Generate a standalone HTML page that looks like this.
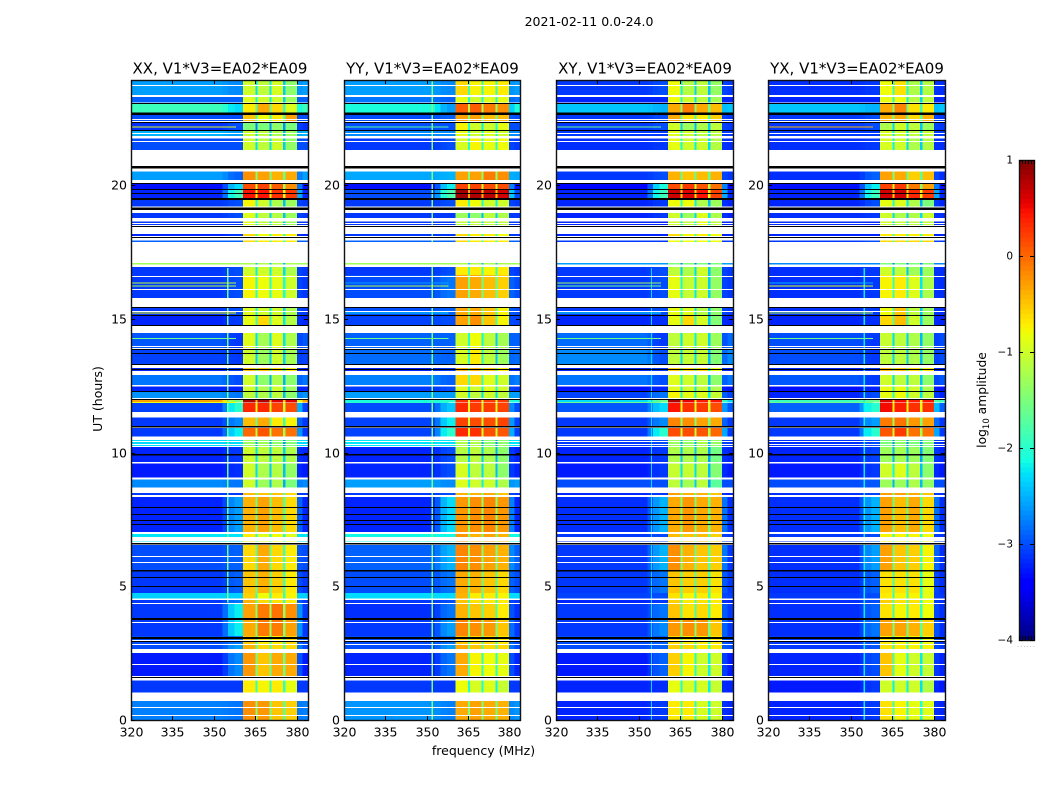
<!DOCTYPE html>
<html lang="en">
<head>
<meta charset="utf-8">
<title>2021-02-11 0.0-24.0 amplitude waterfall</title>
<style>
html,body{margin:0;padding:0;background:#fff;}
svg{display:block;}
text{font-family:"DejaVu Sans","Liberation Sans",sans-serif;fill:#000;}
</style>
</head>
<body>
<svg id="chart" xmlns="http://www.w3.org/2000/svg" width="1050" height="800" viewBox="0 0 1050 800">
  <text x="589" y="26" text-anchor="middle" font-size="12.5">2021-02-11 0.0-24.0</text>
  <text x="483.5" y="755" text-anchor="middle" font-size="12.5">frequency (MHz)</text>
  <text transform="translate(102,399) rotate(-90)" text-anchor="middle" font-size="12.5">UT (hours)</text>
  <text transform="translate(986,400) rotate(-90)" text-anchor="middle" font-size="12.3">log<tspan font-size="8.5" dy="3">10</tspan><tspan dy="-3"> amplitude</tspan></text>
  <g id="panels"></g>
  <g id="colorbar"></g>
</svg>
<script>
// ---------- data (time in UT hours, levels in log10 amplitude) ----------
const panelNames = ["XX", "YY", "XY", "YX"];
const titleSuffix = ", V1*V3=EA02*EA09";
const xTicks = [320, 335, 350, 365, 380];
const yTicks = [0, 5, 10, 15, 20];
const colorTicks = [1, 0, -1, -2, -3, -4];

const segmentTop = [23.94,23.30,23.05,22.63,22.37,22.04,21.75,20.51,20.05,19.83,19.45,18.96,18.64,18.18,17.93,17.10,16.94,16.65,15.45,15.11,14.47,13.88,13.17,12.90,12.47,12.27,12.00,11.85,11.32,10.92,10.48,10.21,9.60,9.00,8.50,8.35,6.97,6.55,5.61,4.76,4.53,4.36,3.78,3.14,2.81,2.50,1.47,0.71];
const segmentBottom = [23.38,23.09,22.72,22.38,22.05,21.85,21.32,20.20,19.83,19.47,19.20,18.78,18.52,18.11,17.88,17.04,16.65,15.79,15.15,14.78,13.92,13.32,13.06,12.53,12.31,12.04,11.87,11.53,11.00,10.60,10.21,9.65,9.08,8.69,8.42,7.04,6.67,5.61,4.76,4.55,4.36,3.82,3.14,2.81,2.65,1.65,1.02,0];

// each row: off-band, band shoulder, sub-band 1, 2, 3, 4
const levelsXX = [
[-2.6,-2.7,-1.0,-1.1,-0.95,-1.4],[-2.9,-2.9,-0.9,-1.0,-1.0,-1.3],[-1.9,-2.3,-0.7,-0.35,-0.6,-0.9],[-3.0,-3.0,-0.5,-0.8,-0.7,-0.3],
[-3.15,-3.0,-1.5,-1.5,-1.4,-1.5],[-2.5,-2.6,-1.0,-1.1,-1.2,-1.3],[-3.0,-3.0,-1.0,-1.1,-1.0,-1.35],[-2.6,-2.9,-0.2,-0.3,-0.4,-0.35],
[-3.3,-2.3,0.15,0.2,0.05,-0.2],[-3.2,-1.9,0.45,0.45,0.3,0.25],[-3.1,-3.0,-0.75,-1.0,-1.2,-1.3],[-3.1,-3.0,-0.9,-1.1,-1.15,-1.3],
[-3.1,-3.1,-0.9,-1.1,-1.1,-1.3],[-3.2,-3.1,-0.6,-0.8,-0.7,-0.7],[-2.9,-2.9,-0.6,-0.7,-0.7,-0.7],[-1.3,-1.3,-1.2,-1.2,-1.2,-1.2],
[-3.1,-3.0,-1.0,-1.0,-1.0,-1.2],[-3.1,-3.0,-0.75,-0.8,-0.85,-1.0],[-3.1,-3.0,-0.9,-1.0,-1.0,-1.2],[-3.2,-3.1,-0.85,-0.6,-0.9,-1.15],
[-2.95,-3.1,-0.9,-1.25,-0.9,-1.2],[-3.05,-3.1,-1.0,-1.3,-1.0,-1.25],[-3.2,-3.1,-0.5,-0.5,-0.6,-0.7],[-2.8,-3.0,-1.0,-1.4,-1.2,-1.4],
[-3.2,-3.2,-1.0,-1.2,-1.0,-1.3],[-2.65,-2.8,-1.1,-1.2,-1.1,-1.4],[-0.3,-1.5,0.8,0.8,0.6,0.6],[-3.05,-2.0,0.35,0.35,0.2,0.15],
[-3.1,-2.7,-0.45,-0.35,-0.7,-0.75],[-3.1,-2.2,0.0,0.1,-0.05,-0.05],[-2.3,-2.3,-1.3,-1.3,-1.4,-1.45],[-3.2,-3.1,-1.0,-1.1,-1.1,-1.2],
[-3.25,-3.15,-1.0,-1.2,-1.15,-1.35],[-2.7,-2.8,-1.0,-1.3,-1.2,-1.5],[-3.1,-3.1,-0.45,-0.5,-0.5,-0.6],[-3.2,-2.6,-0.4,-0.3,-0.45,-0.6],
[-2.25,-2.25,-0.7,-0.9,-0.8,-0.9],[-3.0,-2.9,-0.6,-0.35,-0.6,-0.7],[-3.1,-2.9,-0.5,-0.4,-0.55,-0.7],[-2.35,-2.35,-0.55,-0.8,-0.7,-0.75],
[-3.1,-2.8,-0.4,-0.6,-0.65,-0.7],[-3.1,-2.2,-0.3,-0.1,-0.05,-0.2],[-3.1,-2.2,-0.35,-0.1,-0.1,-0.3],[-3.0,-2.8,-0.5,-0.7,-0.7,-0.6],
[-3.0,-2.6,-0.4,-0.6,-0.6,-0.6],[-3.25,-2.7,-0.25,-0.5,-0.35,-0.35],[-3.1,-3.1,-0.7,-0.75,-0.7,-0.85],[-2.75,-2.8,-0.2,-0.25,-0.5,-0.55]];

const levelsYY = [
[-2.6,-2.7,-0.6,-0.75,-0.75,-0.7],[-2.8,-2.9,-0.85,-1.0,-0.9,-0.85],[-2.1,-2.6,0.05,0.05,-0.1,-0.2],[-3.0,-2.9,-0.3,-0.3,-0.45,-0.45],
[-3.0,-3.0,-0.75,-1.0,-1.0,-0.85],[-2.7,-2.7,-0.85,-1.0,-0.9,-1.0],[-3.1,-3.0,-0.95,-0.75,-0.85,-0.8],[-2.55,-2.5,-0.3,-0.3,-0.1,-0.2],
[-3.3,-2.2,0.2,0.2,0.15,0.15],[-3.0,-1.8,0.85,0.8,0.75,0.65],[-3.1,-3.0,-0.7,-0.8,-1.0,-1.0],[-3.1,-3.1,-1.3,-1.4,-1.1,-1.2],
[-3.1,-3.1,-1.1,-1.1,-1.1,-1.1],[-3.1,-3.1,-0.6,-0.7,-0.7,-0.8],[-2.9,-2.9,-0.6,-0.7,-0.7,-0.7],[-1.3,-1.3,-1.2,-1.2,-1.2,-1.2],
[-3.1,-3.0,-0.7,-0.7,-0.75,-0.7],[-3.0,-2.8,-0.3,-0.35,-0.45,-0.55],[-3.0,-2.9,-0.35,-0.35,-0.5,-0.75],[-3.05,-3.0,-0.3,-0.2,-0.5,-0.75],
[-2.9,-2.9,-1.0,-0.8,-1.1,-1.25],[-2.85,-2.9,-0.95,-0.7,-1.1,-1.3],[-3.2,-3.1,-0.4,-0.4,-0.5,-0.7],[-2.75,-2.9,-0.6,-0.6,-0.9,-1.0],
[-3.1,-3.0,-0.9,-1.0,-0.9,-1.0],[-2.6,-2.6,-1.0,-1.1,-1.0,-1.1],[-2.1,-2.0,0.3,0.3,0.25,0.25],[-3.0,-2.4,0.35,0.25,0.25,0.2],
[-3.05,-2.2,0.2,0.15,0.15,0.2],[-3.05,-2.0,0.35,0.3,0.15,0.1],[-2.25,-2.25,-1.2,-1.2,-1.4,-1.4],[-3.2,-3.0,-1.15,-1.1,-1.2,-1.4],
[-3.2,-3.0,-0.95,-1.1,-1.1,-1.4],[-2.6,-2.7,-0.9,-1.0,-1.0,-1.2],[-3.1,-3.0,-0.4,-0.4,-0.35,-0.5],[-3.2,-2.3,-0.25,-0.2,-0.15,-0.25],
[-2.15,-2.15,-0.25,-0.4,-0.3,-0.4],[-2.9,-2.5,-0.15,-0.2,-0.3,-0.4],[-3.0,-2.8,-0.35,-0.4,-0.5,-0.6],[-2.3,-2.3,-0.4,-0.7,-0.7,-0.75],
[-3.1,-3.0,-0.5,-0.65,-0.7,-0.7],[-3.15,-2.8,-0.4,-0.5,-0.55,-0.7],[-3.1,-2.6,-0.15,-0.2,-0.25,-0.5],[-3.0,-2.8,-0.5,-0.6,-0.6,-0.7],
[-3.0,-2.6,-0.35,-0.5,-0.6,-0.6],[-3.2,-2.8,-0.35,-0.75,-0.8,-0.85],[-3.1,-3.1,-0.8,-0.95,-0.9,-1.05],[-2.65,-2.75,-0.35,-0.3,-0.35,-0.4]];

const levelsXY = [
[-3.1,-3.0,-0.8,-1.15,-1.1,-1.35],[-3.2,-3.2,-0.8,-1.0,-1.1,-1.25],[-2.4,-2.5,-0.35,-0.1,-0.35,-0.45],[-3.1,-3.0,-0.35,-0.65,-0.7,-0.55],
[-3.1,-3.0,-1.0,-1.3,-1.2,-1.1],[-3.1,-3.1,-0.9,-1.0,-1.1,-1.1],[-3.15,-3.1,-0.85,-1.0,-1.0,-1.15],[-3.1,-3.0,-0.4,-0.5,-0.45,-0.4],
[-3.35,-2.1,0.15,0.25,0.1,-0.05],[-3.2,-1.9,0.65,0.6,0.45,0.2],[-3.2,-3.1,-0.8,-0.8,-1.2,-1.3],[-3.2,-3.1,-1.0,-1.3,-0.9,-1.2],
[-3.2,-3.2,-1.0,-1.1,-0.85,-1.1],[-3.2,-3.2,-0.6,-0.75,-0.7,-0.8],[-3.1,-3.1,-0.8,-0.8,-0.8,-0.8],[-2.6,-2.6,-1.5,-1.5,-1.5,-1.5],
[-3.1,-3.0,-1.1,-1.2,-1.0,-1.4],[-3.1,-3.0,-0.85,-1.05,-1.0,-1.35],[-3.1,-3.0,-0.85,-0.9,-1.15,-1.4],[-3.2,-3.15,-0.85,-0.6,-0.95,-1.45],
[-2.85,-3.1,-1.1,-1.0,-1.0,-1.3],[-2.7,-3.0,-1.1,-1.05,-1.05,-1.45],[-3.2,-3.1,-0.55,-0.6,-0.6,-0.85],[-2.8,-3.0,-0.9,-1.0,-1.1,-1.4],
[-3.3,-3.2,-0.9,-1.0,-1.05,-1.2],[-3.05,-2.8,-0.75,-0.85,-0.9,-1.05],[-2.3,-1.6,0.8,0.55,0.4,0.45],[-2.95,-2.3,0.45,0.3,0.25,0.15],
[-3.1,-2.7,-0.15,-0.2,-0.3,-0.35],[-3.1,-2.0,0.15,0.15,0.1,0.0],[-3.1,-3.0,-1.3,-1.35,-1.2,-1.35],[-3.2,-3.1,-1.2,-1.2,-1.2,-1.55],
[-3.25,-3.1,-1.05,-1.05,-1.1,-1.45],[-3.0,-3.0,-1.1,-1.25,-1.1,-1.7],[-3.2,-3.1,-0.3,-0.4,-0.4,-0.5],[-3.15,-2.5,-0.35,-0.25,-0.35,-0.4],
[-3.1,-3.0,-0.45,-0.5,-0.45,-0.55],[-3.1,-2.5,-0.2,-0.4,-0.5,-0.55],[-3.1,-2.8,-0.5,-0.55,-0.55,-0.65],[-3.05,-3.0,-0.65,-0.75,-0.7,-0.75],
[-3.2,-3.1,-0.55,-0.7,-0.65,-0.7],[-3.1,-2.8,-0.5,-0.65,-0.6,-0.7],[-3.1,-2.7,-0.25,-0.2,-0.25,-0.5],[-3.0,-2.9,-0.6,-0.7,-0.7,-0.7],
[-3.0,-2.9,-0.55,-0.6,-0.7,-0.7],[-3.25,-2.9,-0.55,-0.75,-1.0,-1.0],[-3.2,-3.15,-0.85,-0.95,-0.95,-1.05],[-3.2,-3.1,-0.7,-0.7,-0.95,-1.0]];

const levelsYX = [
[-3.15,-3.1,-0.8,-0.65,-1.2,-1.15],[-3.2,-3.2,-0.85,-0.8,-1.15,-1.1],[-2.4,-2.5,-0.35,-0.15,-0.65,-0.7],[-3.1,-3.0,-0.4,-0.35,-0.6,-0.4],
[-3.1,-3.0,-1.2,-1.0,-1.1,-1.3],[-3.1,-3.1,-0.95,-1.0,-1.1,-1.05],[-3.15,-3.1,-0.95,-1.0,-1.2,-1.15],[-3.15,-2.9,-0.3,-0.35,-0.55,-0.45],
[-3.3,-2.2,0.2,0.25,-0.1,-0.3],[-3.2,-1.9,0.65,0.65,0.35,0.25],[-3.2,-3.0,-0.85,-0.9,-1.2,-1.5],[-3.15,-3.1,-1.0,-1.2,-1.2,-1.0],
[-3.15,-3.2,-1.0,-1.1,-1.1,-1.1],[-3.2,-3.2,-0.7,-0.7,-0.7,-0.7],[-3.1,-3.0,-0.6,-0.6,-0.6,-0.6],[-2.7,-2.7,-1.5,-1.5,-1.5,-1.5],
[-3.15,-3.1,-1.0,-1.1,-1.3,-1.3],[-3.15,-3.1,-0.75,-0.7,-0.9,-1.2],[-3.15,-3.1,-0.8,-0.5,-1.1,-1.3],[-3.2,-3.15,-0.6,-0.45,-1.0,-1.3],
[-3.0,-3.1,-1.05,-1.1,-1.2,-1.35],[-3.0,-3.1,-1.1,-1.1,-1.2,-1.35],[-3.2,-3.1,-0.45,-0.5,-0.6,-0.7],[-2.95,-3.1,-1.0,-1.1,-1.1,-1.4],
[-3.3,-3.2,-0.85,-0.85,-1.0,-1.2],[-3.2,-3.0,-0.85,-0.8,-1.0,-1.1],[-1.9,-1.6,0.6,0.5,0.4,0.45],[-2.9,-2.0,0.5,0.4,0.3,0.3],
[-3.1,-2.6,-0.1,-0.05,-0.25,-0.3],[-3.1,-2.0,0.1,0.25,-0.05,-0.05],[-3.15,-3.0,-1.5,-1.4,-1.5,-1.45],[-3.2,-3.05,-1.3,-1.25,-1.3,-1.45],
[-3.25,-3.1,-1.0,-0.9,-1.1,-1.4],[-3.0,-2.95,-1.3,-1.3,-1.2,-1.35],[-3.15,-3.05,-0.3,-0.3,-0.35,-0.5],[-3.15,-2.5,-0.3,-0.45,-0.35,-0.6],
[-3.1,-3.0,-0.75,-0.75,-0.75,-0.8],[-3.15,-2.6,-0.3,-0.5,-0.55,-0.75],[-3.15,-2.9,-0.65,-0.65,-0.65,-0.85],[-3.1,-3.0,-0.7,-0.75,-0.75,-0.85],
[-3.15,-3.0,-0.55,-0.65,-0.65,-0.8],[-3.15,-2.9,-0.65,-0.75,-0.7,-0.8],[-3.15,-2.8,-0.3,-0.3,-0.4,-0.55],[-3.1,-2.9,-0.7,-0.75,-0.75,-0.8],
[-3.1,-2.95,-0.65,-0.7,-0.75,-0.75],[-3.2,-3.0,-0.5,-0.85,-1.0,-1.05],[-3.25,-3.1,-1.0,-1.0,-1.0,-1.15],[-3.2,-3.1,-0.65,-0.75,-0.85,-0.9]];

// narrow-band interference: horizontal rows (time) and vertical channels (freq)
const rfiHours = [22.21, 16.37, 16.26, 15.25, 14.29, 11.90];
const rfiXX = [-0.9, -1.1, -1.2, -0.8, -1.6, -0.8];
const rfiYY = [-1.7, -2.6, -1.2, -2.3, -1.6, -2.0];
const rfiXY = [-1.6, -1.3, -1.6, -2.2, -1.6, -1.6];
const rfiYX = [-0.4, -2.5, -0.9, -1.2, -1.6, -1.6];
const channelFreq = [354.7, 351.8, 354.3, 354.6];
const channelLevel = [-1.6, -1.5, -2.3, -2.2];
const channelFrom = [4.4, 0, 0, 0];
const channelTo = [16.9, 23.94, 16.9, 16.9];

// thin flagged (white) and bad (black) time samples, plus thicker black runs
const whiteHours = [23.75,22.48,22.42,21.95,21.67,18.60,16.61,16.11,15.31,14.00,10.45,10.34,10.26,9.65,9.05,8.42,7.00,6.86,6.82,6.78,6.73,6.15,5.90,4.54,4.37,3.65,3.01,2.86,2.10,1.53,1.00,0.48,0.19];
const blackHours = [23.07,22.38,22.06,20.07,19.85,19.70,19.52,19.47,18.49,18.08,15.46,15.14,14.77,13.89,13.73,13.31,13.13,12.30,12.02,7.96,7.70,7.48,7.32,5.34,5.00,3.82,3.76,3.12,3.06,2.96,1.62];
const blackRunTop = [22.72, 20.73, 19.18, 11.00, 9.95, 6.63, 5.61];
const blackRunBottom = [22.63, 20.63, 19.08, 10.94, 9.90, 6.57, 5.56];

// ---------- layout and axes ----------
const panelLeft = [131, 344, 556, 768];
const panelRight = [308, 520, 733, 945];
const plotTop = 80, plotBottom = 720;
const freqMin = 320, freqMax = 384, hourMax = 23.94;
const allLevels = [levelsXX, levelsYY, levelsXY, levelsYX];
const allRfi = [rfiXX, rfiYY, rfiXY, rfiYX];
const NS = "http://www.w3.org/2000/svg";

function xScale(p, f) { return panelLeft[p] + (f - freqMin) * (panelRight[p] - panelLeft[p]) / (freqMax - freqMin); }
function yScale(h) { return plotBottom - h * (plotBottom - plotTop) / hourMax; }

function lerp(stops, t) {
  for (let i = 1; i < stops.length; i++) {
    if (t <= stops[i][0]) {
      const a = stops[i - 1], b = stops[i];
      return a[1] + (b[1] - a[1]) * (t - a[0]) / (b[0] - a[0]);
    }
  }
  return stops[stops.length - 1][1];
}
const jetR = [[0,0],[.35,0],[.66,1],[.89,1],[1,.5]];
const jetG = [[0,0],[.125,0],[.375,1],[.64,1],[.91,0],[1,0]];
const jetB = [[0,.5],[.11,1],[.34,1],[.65,0],[1,0]];
function colour(v) {
  const t = Math.max(0, Math.min(1, (v + 4) / 5));
  return "rgb(" + Math.round(255 * lerp(jetR, t)) + "," + Math.round(255 * lerp(jetG, t)) + "," + Math.round(255 * lerp(jetB, t)) + ")";
}
function makeRect(parent, x, y, w, h, fill) {
  const r = document.createElementNS(NS, "rect");
  r.setAttribute("x", x.toFixed(2));
  r.setAttribute("y", y.toFixed(2));
  r.setAttribute("width", Math.max(w, 0).toFixed(2));
  r.setAttribute("height", Math.max(h, 0).toFixed(2));
  r.setAttribute("fill", fill);
  r.setAttribute("shape-rendering", "crispEdges");
  parent.appendChild(r);
  return r;
}
function makeText(parent, x, y, anchor, size, str) {
  const t = document.createElementNS(NS, "text");
  t.setAttribute("x", x);
  t.setAttribute("y", y);
  t.setAttribute("text-anchor", anchor);
  t.setAttribute("font-size", size);
  t.textContent = str;
  parent.appendChild(t);
  return t;
}
function blend(a, b, w) { return a + (b - a) * w; }
function mean(a, b) { return (a + b) / 2; }

// ---------- draw panels ----------
const panelsGroup = document.getElementById("panels");
for (let p = 0; p < panelNames.length; p++) {
  const g = document.createElementNS(NS, "g");
  
  
  panelsGroup.appendChild(g);

  const levels = allLevels[p];
  for (let s = 0; s < segmentTop.length; s++) {
    const [off, sh, b1, b2, b3, b4] = levels[s];
    const n1 = mean(b1, b2) - 1.2, n2 = mean(b2, b3) - 1.2, n3 = mean(b3, b4) - 1.2;
    const cols = [
      [320, 353, off], [353, 355, blend(off, sh, 0.3)], [355, 357.5, blend(off, sh, 0.8)], [357.5, 360.5, sh],
      [360.5, 365, b1], [365, 365.8, n1], [365.8, 370, b2], [370, 370.8, n2],
      [370.8, 375, b3], [375, 375.8, n3], [375.8, 380, b4],
      [380, 382, mean(off, sh)], [382, 384, off]
    ];
    const yT = yScale(segmentTop[s]), yB = yScale(segmentBottom[s]);
    for (const [f0, f1, v] of cols) {
      const cell = makeRect(g, xScale(p, f0), yT, xScale(p, f1) - xScale(p, f0), yB - yT, colour(v));
      
      
    }
    // persistent narrow-band channel, only where it overlaps this time block
    const from = Math.max(segmentBottom[s], channelFrom[p]);
    const to = Math.min(segmentTop[s], channelTo[p]);
    if (to > from) {
      const line = makeRect(g, xScale(p, channelFreq[p]), yScale(to), xScale(p, channelFreq[p] + 0.5) - xScale(p, channelFreq[p]), yScale(from) - yScale(to), colour(channelLevel[p]));
      
      
    }
  }
  // horizontal interference rows
  const rfi = allRfi[p];
  for (let i = 0; i < rfiHours.length; i++) {
    const row = makeRect(g, xScale(p, 320), yScale(rfiHours[i]), xScale(p, 358) - xScale(p, 320), 1, colour(rfi[i]));
    
    
  }
  // thin flagged and bad samples
  for (const h of whiteHours) {
    const w = makeRect(g, xScale(p, freqMin), Math.round(yScale(h)), panelRight[p] - panelLeft[p], 1, "#fff");
    
    
  }
  for (const h of blackHours) {
    const b = makeRect(g, xScale(p, freqMin), Math.round(yScale(h)), panelRight[p] - panelLeft[p], 1, "#000");
    
    
  }
  for (let i = 0; i < blackRunTop.length; i++) {
    const b = makeRect(g, xScale(p, freqMin), yScale(blackRunTop[i]), panelRight[p] - panelLeft[p], yScale(blackRunBottom[i]) - yScale(blackRunTop[i]), "#000");
    
    
  }

  // frame
  const frame = document.createElementNS(NS, "rect");
  
  
  frame.setAttribute("x", panelLeft[p] + 0.5);
  frame.setAttribute("y", plotTop + 0.5);
  frame.setAttribute("width", panelRight[p] - panelLeft[p]);
  frame.setAttribute("height", plotBottom - plotTop);
  frame.setAttribute("fill", "none");
  frame.setAttribute("stroke", "#111");
  frame.setAttribute("stroke-width", "1.4");
  g.appendChild(frame);

  // ticks and labels
  for (const f of xTicks) {
    const x = Math.round(xScale(p, f));
    const tb = makeRect(g, x, plotBottom - 4, 1, 4, "#000");
    
    
    const tt = makeRect(g, x, plotTop, 1, 4, "#000");
    
    
    const lab = makeText(g, x + 0.5, 736.5, "middle", 12.5, String(f));
    
    
  }
  for (const h of yTicks) {
    const y = Math.round(yScale(h));
    const tl = makeRect(g, panelLeft[p], y, 4, 1, "#000");
    
    
    const tr = makeRect(g, panelRight[p] - 4, y, 4, 1, "#000");
    
    
    const lab = makeText(g, panelLeft[p] - 4, y + 4.5, "end", 12.5, String(h));
    
    
  }
  const title = makeText(g, (panelLeft[p] + panelRight[p]) / 2 + 0.5, 73.5, "middle", 15, panelNames[p] + titleSuffix);
  
  
}

// ---------- colorbar ----------
const cbLeft = 1019, cbRight = 1034, cbTop = 160, cbBottom = 640;
const cbMin = -4, cbMax = 1;
function cbScale(v) { return cbBottom - (v - cbMin) * (cbBottom - cbTop) / (cbMax - cbMin); }
const cb = document.getElementById("colorbar");
for (let v = cbMin; v < cbMax - 1e-6; v += 0.05) {
  const c = makeRect(cb, cbLeft, cbScale(v + 0.05), cbRight - cbLeft, cbScale(v) - cbScale(v + 0.05) + 0.5, colour(v + 0.025));
  
  
}
const cbFrame = document.createElementNS(NS, "rect");


cbFrame.setAttribute("x", cbLeft + 0.5);
cbFrame.setAttribute("y", cbTop + 0.5);
cbFrame.setAttribute("width", cbRight - cbLeft);
cbFrame.setAttribute("height", cbBottom - cbTop);
cbFrame.setAttribute("fill", "none");
cbFrame.setAttribute("stroke", "#111");
cbFrame.setAttribute("stroke-width", "1.4");
cb.appendChild(cbFrame);
for (const v of colorTicks) {
  const y = Math.round(cbScale(v));
  const tl = makeRect(cb, cbLeft, y, 4, 1, "#000");
  
  
  const tr = makeRect(cb, cbRight - 4, y, 4, 1, "#000");
  
  
  const lab = makeText(cb, 1013, y + 3.5, "end", 10.5, v < 0 ? "\u2212" + Math.abs(v) : String(v));
  
  
}
for (let i = 0; i < 6; i++) {
  const x = cbLeft + Math.round(i * (cbRight - cbLeft) / 5);
  const a = makeRect(cb, x, cbTop, 1, 4, "#000");
  
  
  const b = makeRect(cb, x, cbBottom - 4, 1, 4, "#000");
  
  
}
const dots = makeText(cb, 1026, 647, "middle", 5, ". . . . . .");


dots.style.fill = "#555";
</script>
</body>
</html>
